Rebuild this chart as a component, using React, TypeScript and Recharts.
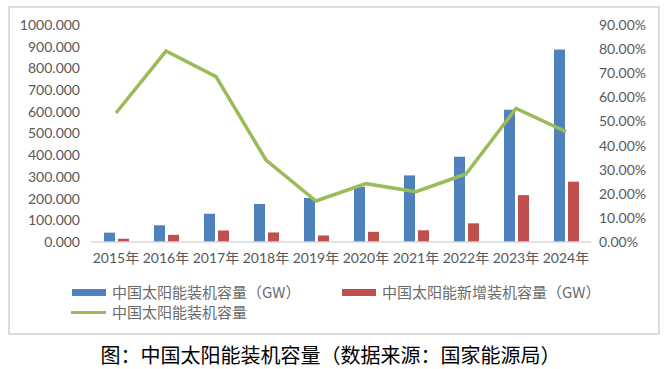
import { ComposedChart, Bar, Line, XAxis, YAxis } from 'recharts'

// ─── Data ─────────────────────────────────────────────────────────────────────

const YEARS = ['2015年', '2016年', '2017年', '2018年', '2019年', '2020年', '2021年', '2022年', '2023年', '2024年']
// cumulative installed capacity, GW
const INSTALLED = [43, 77, 130, 175, 203, 254, 307, 393, 610, 887]
// newly added capacity, GW
const ADDED = [15, 33, 53, 44, 30, 47, 54, 86, 216, 278]
// growth of installed capacity (fraction)
const GROWTH = [0.535, 0.792, 0.686, 0.34, 0.17, 0.242, 0.209, 0.282, 0.554, 0.458]

const LEFT_TICKS = [0, 100, 200, 300, 400, 500, 600, 700, 800, 900, 1000]
const RIGHT_TICKS = [0, 0.1, 0.2, 0.3, 0.4, 0.5, 0.6, 0.7, 0.8, 0.9]

const NAME_INSTALLED = '中国太阳能装机容量（GW）'
const NAME_ADDED = '中国太阳能新增装机容量（GW）'
const NAME_GROWTH = '中国太阳能装机容量'
const CAPTION = '图：中国太阳能装机容量（数据来源：国家能源局）'

// ─── Style ────────────────────────────────────────────────────────────────────

const BLUE = '#4F81BD'
const RED = '#C0504D'
const GREEN = '#9BBB59'
const TICK = '#595959'
const CJK = "'Noto Sans CJK SC', sans-serif"
const TICK_FONT = "Lato, 'Noto Sans CJK SC', sans-serif"

const data = YEARS.map((year, i) => ({
  year,
  installed: INSTALLED[i],
  added: ADDED[i],
  growth: GROWTH[i],
}))

function LegendItem({ left, top, swatch, label }: {
  left: number
  top: number
  swatch: React.ReactNode
  label: string
}) {
  return (
    <div style={{ position: 'absolute', left, top, height: 20, display: 'flex', alignItems: 'center' }}>
      {swatch}
      <span style={{ marginLeft: 6, fontSize: 15, color: '#6b6b6b', fontFamily: CJK, lineHeight: '20px' }}>
        {label}
      </span>
    </div>
  )
}

export default function App() {
  const tick = { fill: TICK, fontSize: 14, fontFamily: TICK_FONT }

  return (
    <div style={{ position: 'absolute', left: 0, top: 0, width: 669, height: 369, background: '#fff' }}>
      {/* chart frame */}
      <div style={{
        position: 'absolute', left: 8, top: 6, width: 652, height: 329,
        border: '2px solid #dcdcdc', boxSizing: 'border-box',
      }} />

      <div style={{ position: 'absolute', left: 0, top: 0 }}>
        <ComposedChart
          width={669}
          height={280}
          data={data}
          margin={{ top: 25, right: 0, bottom: 0, left: 0 }}
          barSize={11}
          barGap={3}
        >
          <XAxis
            dataKey="year"
            interval={0}
            height={38}
            tick={tick}
            tickLine={false}
            tickSize={0}
            tickMargin={11}
            axisLine={{ stroke: '#d9d9d9', strokeWidth: 1.5 }}
          />
          <YAxis
            yAxisId="left"
            orientation="left"
            width={91}
            domain={[0, 1000]}
            ticks={LEFT_TICKS}
            tickFormatter={(v: number) => v.toFixed(3)}
            tick={tick}
            axisLine={false}
            tickLine={false}
            tickSize={0}
            tickMargin={11}
          />
          <YAxis
            yAxisId="right"
            orientation="right"
            width={78}
            domain={[0, 0.9]}
            ticks={RIGHT_TICKS}
            tickFormatter={(v: number) => `${(v * 100).toFixed(2)}%`}
            tick={tick}
            axisLine={false}
            tickLine={false}
            tickSize={0}
            tickMargin={8}
          />
          <Bar yAxisId="left" dataKey="installed" name={NAME_INSTALLED} fill={BLUE} isAnimationActive={false} />
          <Bar yAxisId="left" dataKey="added" name={NAME_ADDED} fill={RED} isAnimationActive={false} />
          <Line
            yAxisId="right"
            type="linear"
            dataKey="growth"
            name={NAME_GROWTH}
            stroke={GREEN}
            strokeWidth={3.5}
            dot={false}
            activeDot={false}
            isAnimationActive={false}
          />
        </ComposedChart>
      </div>

      {/* legend */}
      <LegendItem
        left={72}
        top={282}
        swatch={<span style={{ display: 'inline-block', width: 34, height: 7, background: BLUE }} />}
        label={NAME_INSTALLED}
      />
      <LegendItem
        left={342}
        top={282}
        swatch={<span style={{ display: 'inline-block', width: 34, height: 7, background: RED }} />}
        label={NAME_ADDED}
      />
      <LegendItem
        left={71}
        top={302}
        swatch={<span style={{ display: 'inline-block', width: 35, height: 3, background: GREEN }} />}
        label={NAME_GROWTH}
      />

      {/* caption */}
      <div style={{
        position: 'absolute', left: 0, width: 661, top: 342, textAlign: 'center',
        fontSize: 20, lineHeight: '26px', fontFamily: CJK, color: '#000',
      }}>
        {CAPTION}
      </div>
    </div>
  )
}
